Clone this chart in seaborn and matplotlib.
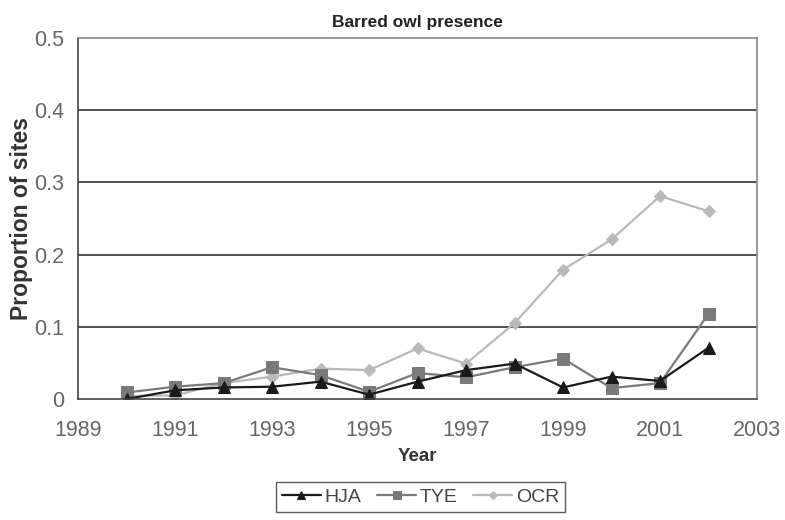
import numpy as np
import matplotlib
matplotlib.use("Agg")
import matplotlib.pyplot as plt
import pandas as pd
import seaborn as sns

# data
years = [1990, 1991, 1992, 1993, 1994, 1995, 1996, 1997, 1998, 1999, 2000, 2001, 2002]
hja = [0.000, 0.012, 0.016, 0.017, 0.024, 0.006, 0.024, 0.040, 0.049, 0.016, 0.031, 0.025, 0.071]
tye = [0.009, 0.017, 0.022, 0.044, 0.033, 0.010, 0.036, 0.030, 0.044, 0.056, 0.015, 0.022, 0.118]
ocr = [0.004, 0.005, 0.022, 0.031, 0.042, 0.040, 0.070, 0.049, 0.105, 0.179, 0.221, 0.281, 0.260]
series = ["HJA", "TYE", "OCR"]
y_ticks = [0, 0.1, 0.2, 0.3, 0.4, 0.5]
x_ticks = [1989, 1991, 1993, 1995, 1997, 1999, 2001, 2003]

sns.set_style("white")
plt.rcParams['font.family'] = ['Liberation Sans', 'DejaVu Sans']

df = pd.DataFrame({"Year": years * 3,
                   "value": hja + tye + ocr,
                   "site": ["HJA"] * len(years) + ["TYE"] * len(years) + ["OCR"] * len(years)})

colors = {"HJA": "#1a1a1a", "TYE": "#7a7a7a", "OCR": "#b9b9b9"}
marks = {"HJA": "^", "TYE": "s", "OCR": "D"}
msize = {"HJA": 9, "TYE": 8.5, "OCR": 6.5}

fig = plt.figure(figsize=(7.85, 5.2), dpi=100)
ax = fig.add_axes([0.0994, 0.2327, 0.8650, 0.6943])

# light series first so the darker ones sit on top
for s in ["OCR", "TYE", "HJA"]:
    sub = df[df.site == s]
    sns.lineplot(data=sub, x="Year", y="value", ax=ax, color=colors[s],
                 marker=marks[s], markersize=msize[s], markeredgecolor=colors[s],
                 linewidth=1.6, label=s, legend=False)

ax.set_xlim(1989, 2003)
ax.set_ylim(0, 0.5)
ax.set_xticks(x_ticks)
ax.set_yticks(y_ticks)
ax.set_yticklabels(["0", "0.1", "0.2", "0.3", "0.4", "0.5"])
ax.tick_params(axis="both", labelsize=15.5, colors="#444444", width=1, labelcolor="#666666")
ax.tick_params(axis="y", direction="inout", length=6, pad=7)
ax.tick_params(axis="x", direction="out", length=5, pad=10)
for yv in y_ticks[1:-1]:
    ax.axhline(yv, color="#333333", linewidth=1.2, zorder=0)
ax.spines["left"].set_color("#444444")
ax.spines["bottom"].set_color("#444444")
ax.spines["top"].set_color("#888888")
ax.spines["right"].set_color("#888888")
for sp in ax.spines.values():
    sp.set_linewidth(1.2)

ax.set_title("Barred owl presence", fontsize=12.5, fontweight="bold", color="#222222", pad=8)
ax.set_xlabel("Year", fontsize=13.5, fontweight="bold", color="#333333", labelpad=5)
ax.set_ylabel("Proportion of sites", fontsize=16.5, fontweight="bold", color="#333333", labelpad=1)

handles, labels = ax.get_legend_handles_labels()
order = [labels.index(s) for s in series]
leg = fig.legend([handles[i] for i in order], series, loc="center",
                 bbox_to_anchor=(0.536, 0.044), ncol=3, frameon=True, fancybox=False,
                 fontsize=14, handlelength=2.0, handletextpad=0.2, columnspacing=0.8,
                 borderpad=0.3, markerscale=0.6)
leg.get_frame().set_edgecolor("#333333")
leg.get_frame().set_linewidth(1.0)
for t in leg.get_texts():
    t.set_color("#444444")

fig.savefig("out.png", dpi=100)
